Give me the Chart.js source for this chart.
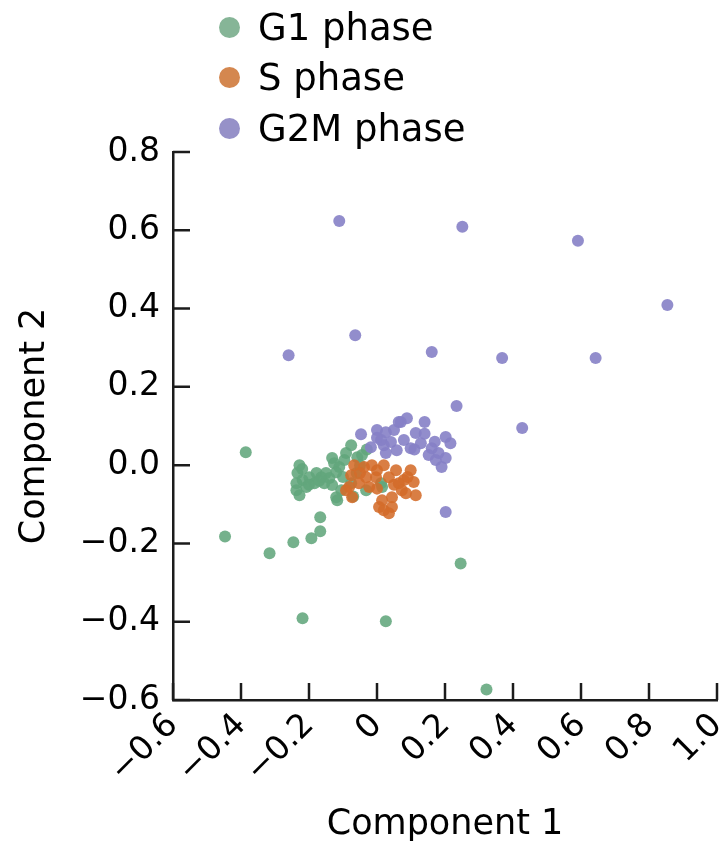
<!DOCTYPE html>
<html>
<head>
<meta charset="utf-8">
<title>Cell cycle phases</title>
<script src="https://cdn.jsdelivr.net/npm/chart.js@4.4.1/dist/chart.umd.min.js"></script>
<style>
    html, body { margin: 0; padding: 0; background: #fff; }
    #wrap { position: relative; width: 723px; height: 846px; }
    #legend { position: absolute; left: 0; top: 0; font-family: "DejaVu Sans", sans-serif; font-size: 37px; color: #000; }
    .item { position: absolute; left: 219px; height: 50px; display: flex; align-items: center; white-space: nowrap; }
    .dot { width: 21px; height: 21px; border-radius: 50%; margin-right: 18px; }
</style>
</head>
<body>
<div id="wrap">
    <canvas id="chart" width="723" height="846"></canvas>
    <div id="legend"></div>
</div>
<script>
// ===============================
// Data
// ===============================
const g1X = [-0.386, -0.447, -0.316, -0.246, -0.193, -0.167, -0.167, -0.219, 0.026, 0.246, 0.322,
    -0.117, -0.228, -0.234, -0.237, -0.237, -0.219, -0.208, -0.199, -0.178, -0.184, -0.164, -0.155,
    -0.140, -0.132, -0.126, -0.132, -0.111, -0.105, -0.091, -0.076, -0.076, -0.120, -0.058, -0.096,
    -0.044, -0.032, 0.012, -0.120, -0.228, 0.015,
    -0.220, -0.200, -0.170, -0.150, -0.100, -0.060, -0.050, -0.030, -0.070];
const g1Y = [0.033, -0.182, -0.225, -0.197, -0.187, -0.169, -0.133, -0.391, -0.399, -0.251, -0.573,
    -0.090, 0.000, -0.020, -0.046, -0.064, -0.038, -0.056, -0.031, -0.020, -0.046, -0.031, -0.046,
    -0.033, -0.051, 0.005, 0.018, -0.005, -0.064, 0.031, 0.051, -0.046, -0.018, 0.020, 0.013,
    0.026, -0.064, -0.046, -0.082, -0.077, -0.056,
    -0.010, -0.050, -0.040, -0.020, -0.030, -0.020, 0.000, 0.040, -0.080];

const sX = [-0.067, -0.076, -0.073, -0.038, -0.015, 0.020, 0.056, 0.099, 0.079, 0.108, 0.114, 0.085,
    0.044, 0.015, 0.020, 0.035, 0.006, -0.023, -0.053, -0.082, -0.003, 0.035, -0.032, -0.091,
    0.064, 0.000, 0.073, 0.044,
    0.090, 0.000, 0.050, -0.050];
const sY = [0.000, -0.026, -0.082, -0.005, 0.000, 0.000, -0.013, -0.013, -0.038, -0.043, -0.077, -0.072,
    -0.082, -0.090, -0.115, -0.123, -0.107, -0.056, -0.046, -0.056, -0.031, -0.031, -0.031, -0.064,
    -0.046, -0.013, -0.064, -0.107,
    -0.030, -0.060, -0.050, -0.020];

const g2mX = [-0.111, 0.251, 0.591, 0.854, -0.064, -0.260, 0.161, 0.368, 0.643, 0.234, 0.427, 0.202,
    0.070, 0.088, 0.140, -0.047, 0.000, 0.026, 0.012, 0.041, -0.018, 0.058, 0.114, 0.129, 0.099,
    0.161, 0.202, 0.216, 0.181, 0.202, 0.173, 0.190, 0.026, 0.064, 0.079, 0.152, 0.020,
    0.050, 0.110, 0.170, 0.140, 0.000];
const g2mY = [0.624, 0.609, 0.573, 0.409, 0.332, 0.281, 0.289, 0.274, 0.274, 0.151, 0.095, -0.120,
    0.110, 0.120, 0.110, 0.079, 0.090, 0.084, 0.064, 0.059, 0.046, 0.038, 0.082, 0.056, 0.043,
    0.043, 0.072, 0.056, 0.031, 0.018, 0.013, -0.005, 0.031, 0.110, 0.064, 0.026, 0.051,
    0.090, 0.040, 0.060, 0.080, 0.070];

const phaseNames = ["G1 phase", "S phase", "G2M phase"];

const xTickValues = [-0.6, -0.4, -0.2, 0, 0.2, 0.4, 0.6, 0.8, 1.0];
const xTickLabels = ["\u22120.6", "\u22120.4", "\u22120.2", "0", "0.2", "0.4", "0.6", "0.8", "1.0"];
const yTickValues = [-0.6, -0.4, -0.2, 0, 0.2, 0.4, 0.6, 0.8];
const yTickLabels = ["\u22120.6", "\u22120.4", "\u22120.2", "0.0", "0.2", "0.4", "0.6", "0.8"];

// ===============================
// Styles
// ===============================
const FONT = "'DejaVu Sans', sans-serif";
const INK = "#000";
const AXIS = "#1c1c1c";
const pointColors = ["rgba(98,166,124,0.88)", "rgba(212,108,42,0.88)", "rgba(134,129,198,0.9)"];
const legendColors = ["#86b597", "#d4874f", "#9691c8"];

function toPoints(xs, ys) {
    return xs.map((x, i) => ({ x: x, y: ys[i] }));
}

// ticks pointing into the plot, like the original figure
const inwardTicks = {
    id: "inwardTicks",
    beforeDatasetsDraw(chart) {
        const { ctx, chartArea, scales } = chart;
        ctx.save();
        ctx.strokeStyle = AXIS;
        ctx.lineWidth = 2.5;
        ctx.beginPath();
        scales.x.ticks.forEach((t, i) => {
            const px = scales.x.getPixelForTick(i);
            ctx.moveTo(px, chartArea.bottom);
            ctx.lineTo(px, chartArea.bottom - 17);
        });
        scales.y.ticks.forEach((t, i) => {
            const py = scales.y.getPixelForTick(i);
            ctx.moveTo(chartArea.left, py);
            ctx.lineTo(chartArea.left + 17, py);
        });
        ctx.stroke();
        ctx.restore();
    }
};

const datasets = [
    { label: phaseNames[0], data: toPoints(g1X, g1Y), backgroundColor: pointColors[0], order: 3 },
    { label: phaseNames[1], data: toPoints(sX, sY), backgroundColor: pointColors[1], order: 1 },
    { label: phaseNames[2], data: toPoints(g2mX, g2mY), backgroundColor: pointColors[2], order: 2 }
].map(d => Object.assign(d, { pointRadius: 6, borderWidth: 0, pointHoverRadius: 6 }));

const chart = new Chart(document.getElementById("chart"), {
    type: "scatter",
    data: { datasets: datasets },
    options: {
        responsive: false,
        animation: false,
        layout: { padding: { top: 152, right: 3, left: 0, bottom: 0 } },
        plugins: { legend: { display: false }, tooltip: { enabled: false } },
        scales: {
            x: {
                type: "linear",
                min: -0.6,
                max: 1.0,
                afterBuildTicks: s => { s.ticks = xTickValues.map(v => ({ value: v })); },
                afterFit: s => { s.height = 146; s.paddingLeft = 0; s.paddingRight = 0; },
                ticks: {
                    autoSkip: false,
                    minRotation: 45,
                    maxRotation: 45,
                    padding: 6,
                    color: INK,
                    font: { family: FONT, size: 33 },
                    callback: (v, i) => xTickLabels[i]
                },
                grid: { drawOnChartArea: false, drawTicks: false },
                border: { color: AXIS, width: 2.5 },
                title: {
                    display: true,
                    text: "Component 1",
                    color: INK,
                    font: { family: FONT, size: 35 },
                    padding: { top: 0, bottom: 0 }
                }
            },
            y: {
                type: "linear",
                min: -0.6,
                max: 0.8,
                afterBuildTicks: s => { s.ticks = yTickValues.map(v => ({ value: v })); },
                afterFit: s => { s.width = 173; },
                ticks: {
                    padding: 13,
                    color: INK,
                    font: { family: FONT, size: 33 },
                    callback: (v, i) => yTickLabels[i]
                },
                grid: { drawOnChartArea: false, drawTicks: false },
                border: { color: AXIS, width: 2.5 },
                title: {
                    display: true,
                    text: "Component 2",
                    color: INK,
                    font: { family: FONT, size: 35 },
                    padding: { top: 14, bottom: 0 }
                }
            }
        }
    },
    plugins: [inwardTicks]
});

// ===============================
// Legend (vertical, top-left), built from the datasets
// ===============================
const legend = document.getElementById("legend");
phaseNames.forEach((name, i) => {
    const item = document.createElement("div");
    item.className = "item";
    item.style.top = (2 + i * 50.5) + "px";
    const dot = document.createElement("span");
    dot.className = "dot";
    dot.style.background = legendColors[i];
    item.appendChild(dot);
    item.appendChild(document.createTextNode(chart.data.datasets[i].label));
    legend.appendChild(item);
});
</script>
</body>
</html>
